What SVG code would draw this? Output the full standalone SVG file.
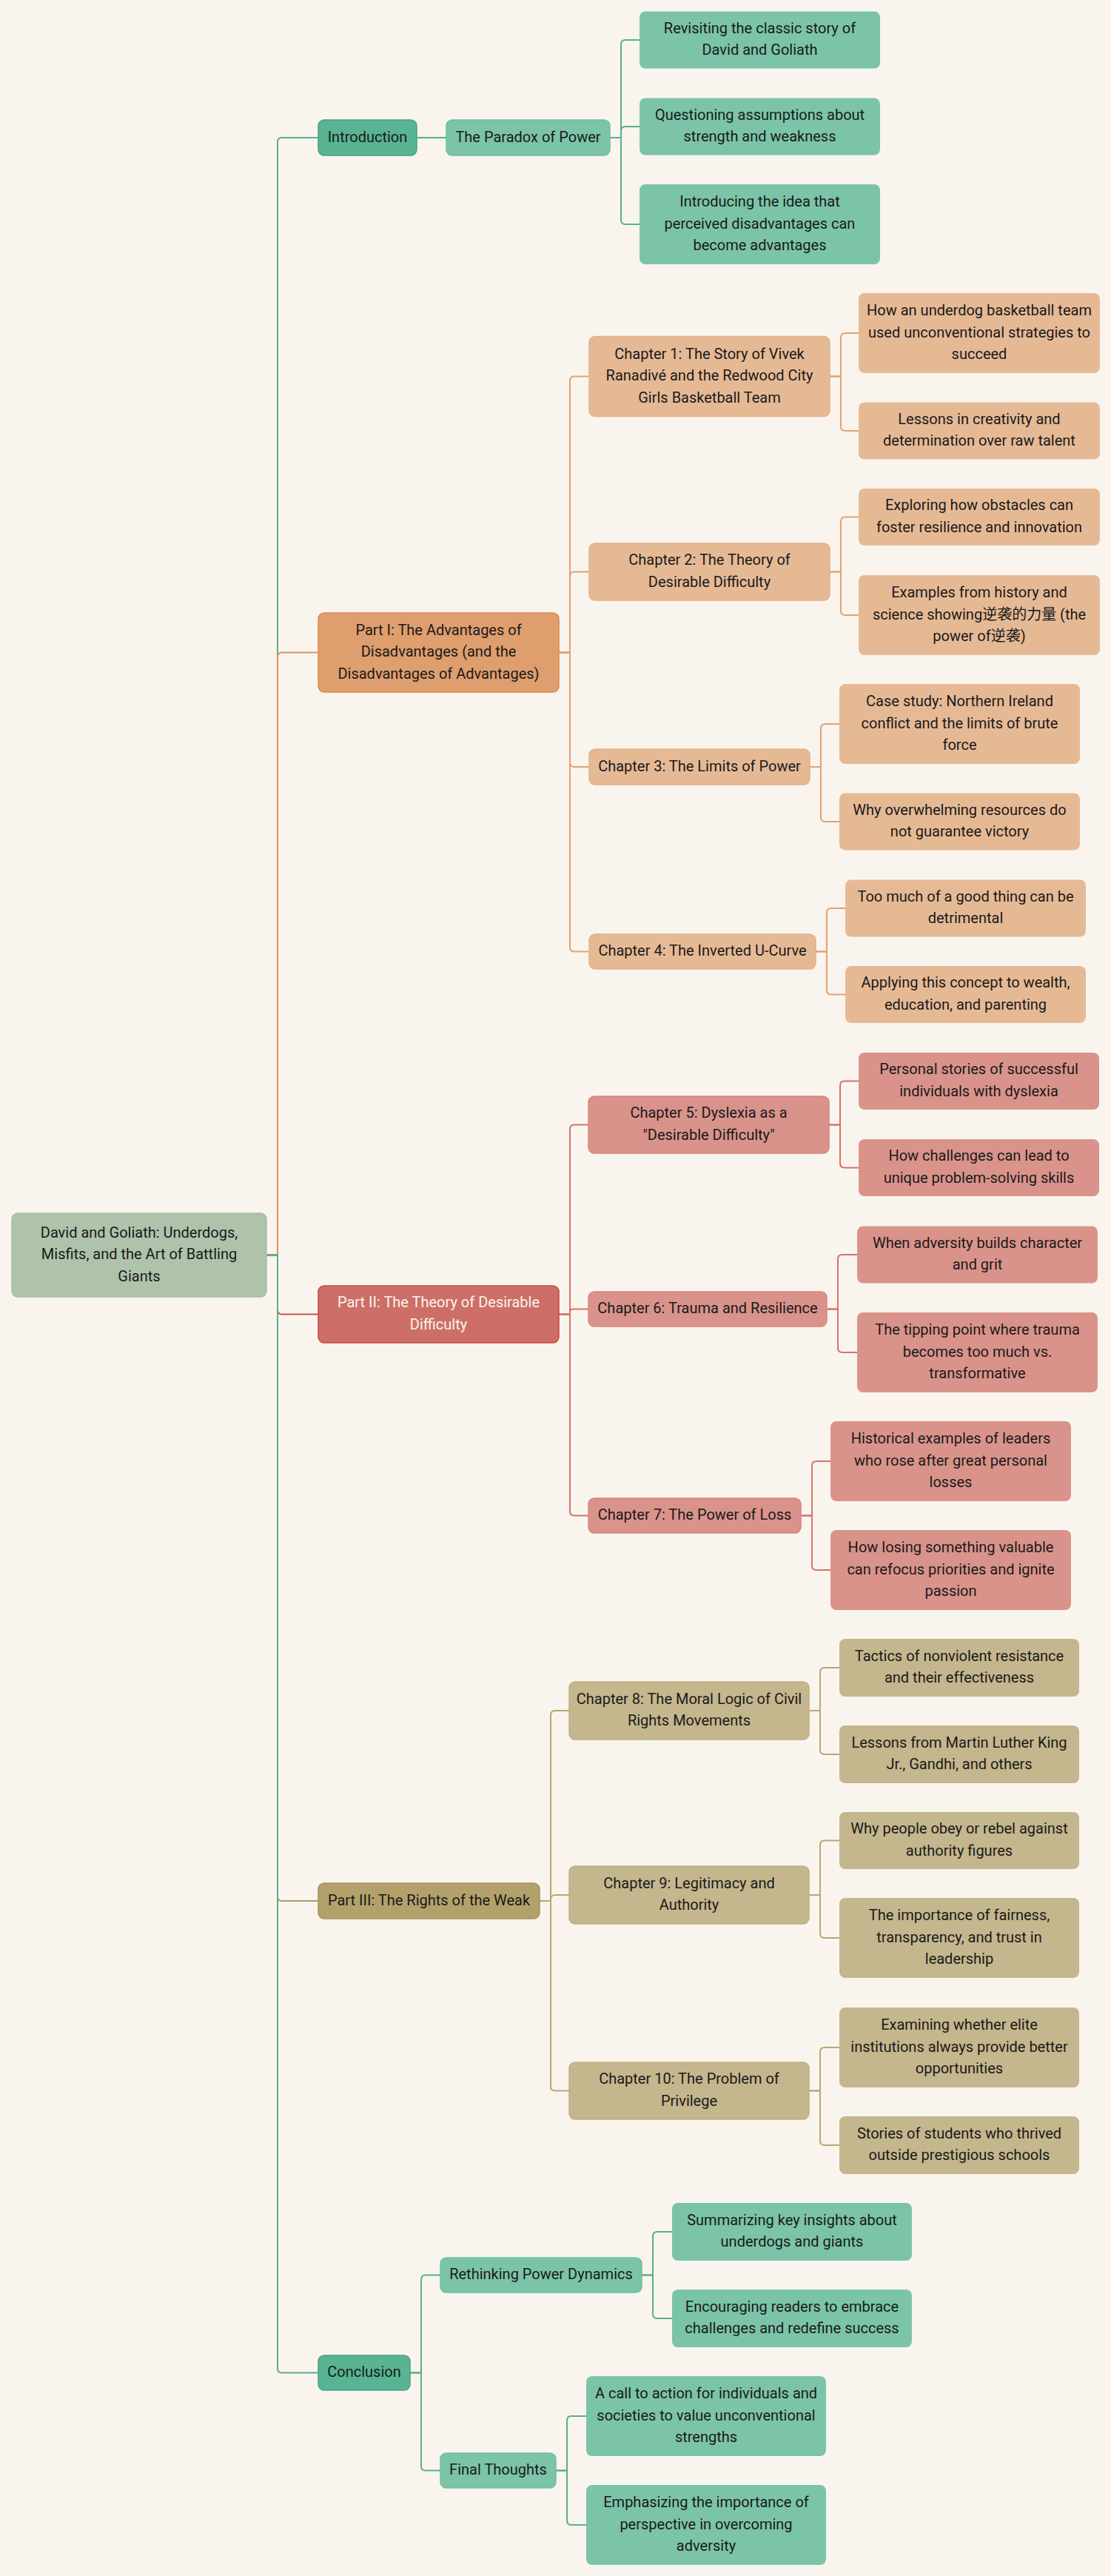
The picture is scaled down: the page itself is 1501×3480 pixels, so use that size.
<svg xmlns="http://www.w3.org/2000/svg" width="1501" height="3480" viewBox="0 0 1501 3480">
<style>
text{font-family:Roboto,"Noto Sans","Noto Sans CJK SC",sans-serif;font-size:20px;fill:#1a1a1a;text-anchor:middle}
.c{fill:none;stroke-width:2}
.cg{stroke:#5AAE8C}.co{stroke:#E2A272}.cor{stroke:#D9955C}.cr{stroke:#D5736A}.crr{stroke:#C9554B}.cy{stroke:#B8A771}.cyr{stroke:#AD9B62}
rect{stroke-width:1.5}
.root rect{fill:#AEC3AA;stroke:#A6BEA2}
.g1 rect{fill:#58B492;stroke:#4C9F80}
.g2 rect{fill:#7BC4A8;stroke:#70BE9F}
.o1 rect{fill:#DF9E6E;stroke:#D98A50}
.o2 rect{fill:#E6B995;stroke:#E4B089}
.r1 rect{fill:#CD6F66;stroke:#C24A40}
.r1 text{fill:#FBF3F0}
.r2 rect{fill:#D9938A;stroke:#D6857C}
.y1 rect{fill:#B3A16B;stroke:#A5935B}
.y2 rect{fill:#C4B68D;stroke:#BFB084}
.leaf rect{stroke:none}
</style>
<rect width="1501" height="3480" fill="#F9F5EE" stroke="none"/>
<g id="connectors">
<path class="c cg" d="M360 1695.5 H375 V192 Q375 186 381 186 H430"/>
<path class="c cor" d="M360 1695.5 H375 V887.5 Q375 881.5 381 881.5 H430"/>
<path class="c crr" d="M360 1695.5 H375 V1769.5 Q375 1775.5 381 1775.5 H430"/>
<path class="c cyr" d="M360 1695.5 H375 V2562 Q375 2568 381 2568 H430"/>
<path class="c cg" d="M360 1695.5 H375 V3199.5 Q375 3205.5 381 3205.5 H430"/>
<path class="c cg" d="M563 186 H603"/>
<path class="c cg" d="M824 186 H839 V60 Q839 54 845 54 H864"/>
<path class="c cg" d="M824 186 H839 V177 Q839 171 845 171 H864"/>
<path class="c cg" d="M824 186 H839 V297 Q839 303 845 303 H864"/>
<path class="c co" d="M755 881.5 H770 V514.5 Q770 508.5 776 508.5 H796"/>
<path class="c co" d="M755 881.5 H770 V778.5 Q770 772.5 776 772.5 H796"/>
<path class="c co" d="M755 881.5 H770 V1030 Q770 1036 776 1036 H796"/>
<path class="c co" d="M755 881.5 H770 V1279.5 Q770 1285.5 776 1285.5 H796"/>
<path class="c co" d="M1121 508.5 H1136 V456 Q1136 450 1142 450 H1160"/>
<path class="c co" d="M1121 508.5 H1136 V576 Q1136 582 1142 582 H1160"/>
<path class="c co" d="M1121 772.5 H1136 V704.5 Q1136 698.5 1142 698.5 H1160"/>
<path class="c co" d="M1121 772.5 H1136 V825 Q1136 831 1142 831 H1160"/>
<path class="c co" d="M1094 1036 H1109 V984 Q1109 978 1115 978 H1134"/>
<path class="c co" d="M1094 1036 H1109 V1104 Q1109 1110 1115 1110 H1134"/>
<path class="c co" d="M1102 1285.5 H1117 V1233 Q1117 1227 1123 1227 H1142"/>
<path class="c co" d="M1102 1285.5 H1117 V1337.5 Q1117 1343.5 1123 1343.5 H1142"/>
<path class="c cr" d="M755 1775.5 H770 V1525.5 Q770 1519.5 776 1519.5 H795"/>
<path class="c cr" d="M755 1775.5 H770 V1772.5 Q770 1768.5 774 1768.5 H795"/>
<path class="c cr" d="M755 1775.5 H770 V2041.5 Q770 2047.5 776 2047.5 H795"/>
<path class="c cr" d="M1120 1519.5 H1135 V1466.5 Q1135 1460.5 1141 1460.5 H1160"/>
<path class="c cr" d="M1120 1519.5 H1135 V1571.5 Q1135 1577.5 1141 1577.5 H1160"/>
<path class="c cr" d="M1117 1768.5 H1132 V1701 Q1132 1695 1138 1695 H1158"/>
<path class="c cr" d="M1117 1768.5 H1132 V1821 Q1132 1827 1138 1827 H1158"/>
<path class="c cr" d="M1082 2047.5 H1097 V1980 Q1097 1974 1103 1974 H1122"/>
<path class="c cr" d="M1082 2047.5 H1097 V2115 Q1097 2121 1103 2121 H1122"/>
<path class="c cy" d="M729 2568 H744 V2317 Q744 2311 750 2311 H769"/>
<path class="c cy" d="M729 2568 H744 V2566 Q744 2560 750 2560 H769"/>
<path class="c cy" d="M729 2568 H744 V2818.5 Q744 2824.5 750 2824.5 H769"/>
<path class="c cy" d="M1093 2311 H1108 V2259 Q1108 2253 1114 2253 H1134"/>
<path class="c cy" d="M1093 2311 H1108 V2364 Q1108 2370 1114 2370 H1134"/>
<path class="c cy" d="M1093 2560 H1108 V2492.5 Q1108 2486.5 1114 2486.5 H1134"/>
<path class="c cy" d="M1093 2560 H1108 V2612 Q1108 2618 1114 2618 H1134"/>
<path class="c cy" d="M1093 2824.5 H1108 V2772 Q1108 2766 1114 2766 H1134"/>
<path class="c cy" d="M1093 2824.5 H1108 V2892 Q1108 2898 1114 2898 H1134"/>
<path class="c cg" d="M554 3205.5 H569 V3079.5 Q569 3073.5 575 3073.5 H595"/>
<path class="c cg" d="M554 3205.5 H569 V3331.5 Q569 3337.5 575 3337.5 H595"/>
<path class="c cg" d="M867 3073.5 H882 V3021 Q882 3015 888 3015 H908"/>
<path class="c cg" d="M867 3073.5 H882 V3126 Q882 3132 888 3132 H908"/>
<path class="c cg" d="M751 3337.5 H766 V3270 Q766 3264 772 3264 H792"/>
<path class="c cg" d="M751 3337.5 H766 V3405 Q766 3411 772 3411 H792"/>
</g>

<g id="root" class="root"><rect x="16" y="1639" width="344" height="113" rx="8"/><text x="188" y="1671.5">David and Goliath: Underdogs,</text><text x="188" y="1701">Misfits, and the Art of Battling</text><text x="188" y="1730.5">Giants</text></g>

<g id="introduction" class="g1"><rect x="430" y="162" width="133" height="48" rx="8"/><text x="496.5" y="191.5">Introduction</text></g>
<g id="paradox" class="g2"><rect x="603" y="162" width="221" height="48" rx="8"/><text x="713.5" y="191.5">The Paradox of Power</text></g>
<g id="intro-l1" class="g2 leaf"><rect x="864" y="15.5" width="325" height="77" rx="8"/><text x="1026.5" y="44.75">Revisiting the classic story of</text><text x="1026.5" y="74.25">David and Goliath</text></g>
<g id="intro-l2" class="g2 leaf"><rect x="864" y="132.5" width="325" height="77" rx="8"/><text x="1026.5" y="161.75">Questioning assumptions about</text><text x="1026.5" y="191.25">strength and weakness</text></g>
<g id="intro-l3" class="g2 leaf"><rect x="864" y="249" width="325" height="108" rx="8"/><text x="1026.5" y="279">Introducing the idea that</text><text x="1026.5" y="308.5">perceived disadvantages can</text><text x="1026.5" y="338">become advantages</text></g>

<g id="part1" class="o1"><rect x="430" y="828" width="325" height="107" rx="8"/><text x="592.5" y="857.5">Part I: The Advantages of</text><text x="592.5" y="887">Disadvantages (and the</text><text x="592.5" y="916.5">Disadvantages of Advantages)</text></g>
<g id="ch1" class="o2"><rect x="796" y="454.5" width="325" height="108" rx="8"/><text x="958.5" y="484.5">Chapter 1: The Story of Vivek</text><text x="958.5" y="514">Ranadivé and the Redwood City</text><text x="958.5" y="543.5">Girls Basketball Team</text></g>
<g id="ch1-l1" class="o2 leaf"><rect x="1160" y="396" width="326" height="108" rx="8"/><text x="1323" y="426">How an underdog basketball team</text><text x="1323" y="455.5">used unconventional strategies to</text><text x="1323" y="485">succeed</text></g>
<g id="ch1-l2" class="o2 leaf"><rect x="1160" y="543.5" width="326" height="77" rx="8"/><text x="1323" y="572.75">Lessons in creativity and</text><text x="1323" y="602.25">determination over raw talent</text></g>
<g id="ch2" class="o2"><rect x="796" y="734" width="325" height="77" rx="8"/><text x="958.5" y="763.25">Chapter 2: The Theory of</text><text x="958.5" y="792.75">Desirable Difficulty</text></g>
<g id="ch2-l1" class="o2 leaf"><rect x="1160" y="660" width="326" height="77" rx="8"/><text x="1323" y="689.25">Exploring how obstacles can</text><text x="1323" y="718.75">foster resilience and innovation</text></g>
<g id="ch2-l2" class="o2 leaf"><rect x="1160" y="777" width="326" height="108" rx="8"/><text x="1323" y="807">Examples from history and</text><text x="1323" y="836.5">science showing逆袭的力量 (the</text><text x="1323" y="866">power of逆袭)</text></g>
<g id="ch3" class="o2"><rect x="796" y="1012" width="298" height="48" rx="8"/><text x="945" y="1041.5">Chapter 3: The Limits of Power</text></g>
<g id="ch3-l1" class="o2 leaf"><rect x="1134" y="924" width="325" height="108" rx="8"/><text x="1296.5" y="954">Case study: Northern Ireland</text><text x="1296.5" y="983.5">conflict and the limits of brute</text><text x="1296.5" y="1013">force</text></g>
<g id="ch3-l2" class="o2 leaf"><rect x="1134" y="1071.5" width="325" height="77" rx="8"/><text x="1296.5" y="1100.75">Why overwhelming resources do</text><text x="1296.5" y="1130.25">not guarantee victory</text></g>
<g id="ch4" class="o2"><rect x="796" y="1262" width="306" height="47" rx="8"/><text x="949" y="1291">Chapter 4: The Inverted U-Curve</text></g>
<g id="ch4-l1" class="o2 leaf"><rect x="1142" y="1188.5" width="325" height="77" rx="8"/><text x="1304.5" y="1217.75">Too much of a good thing can be</text><text x="1304.5" y="1247.25">detrimental</text></g>
<g id="ch4-l2" class="o2 leaf"><rect x="1142" y="1305" width="325" height="77" rx="8"/><text x="1304.5" y="1334.25">Applying this concept to wealth,</text><text x="1304.5" y="1363.75">education, and parenting</text></g>

<g id="part2" class="r1"><rect x="430" y="1737" width="325" height="77" rx="8"/><text x="592.5" y="1766.25">Part II: The Theory of Desirable</text><text x="592.5" y="1795.75">Difficulty</text></g>
<g id="ch5" class="r2"><rect x="795" y="1481" width="325" height="77" rx="8"/><text x="957.5" y="1510.25">Chapter 5: Dyslexia as a</text><text x="957.5" y="1539.75">"Desirable Difficulty"</text></g>
<g id="ch5-l1" class="r2 leaf"><rect x="1160" y="1422" width="325" height="77" rx="8"/><text x="1322.5" y="1451.25">Personal stories of successful</text><text x="1322.5" y="1480.75">individuals with dyslexia</text></g>
<g id="ch5-l2" class="r2 leaf"><rect x="1160" y="1539" width="325" height="77" rx="8"/><text x="1322.5" y="1568.25">How challenges can lead to</text><text x="1322.5" y="1597.75">unique problem-solving skills</text></g>
<g id="ch6" class="r2"><rect x="795" y="1745" width="322" height="47" rx="8"/><text x="956" y="1774">Chapter 6: Trauma and Resilience</text></g>
<g id="ch6-l1" class="r2 leaf"><rect x="1158" y="1656.5" width="325" height="77" rx="8"/><text x="1320.5" y="1685.75">When adversity builds character</text><text x="1320.5" y="1715.25">and grit</text></g>
<g id="ch6-l2" class="r2 leaf"><rect x="1158" y="1773" width="325" height="108" rx="8"/><text x="1320.5" y="1803">The tipping point where trauma</text><text x="1320.5" y="1832.5">becomes too much vs.</text><text x="1320.5" y="1862">transformative</text></g>
<g id="ch7" class="r2"><rect x="795" y="2024" width="287" height="47" rx="8"/><text x="938.5" y="2053">Chapter 7: The Power of Loss</text></g>
<g id="ch7-l1" class="r2 leaf"><rect x="1122" y="1920" width="325" height="108" rx="8"/><text x="1284.5" y="1950">Historical examples of leaders</text><text x="1284.5" y="1979.5">who rose after great personal</text><text x="1284.5" y="2009">losses</text></g>
<g id="ch7-l2" class="r2 leaf"><rect x="1122" y="2067" width="325" height="108" rx="8"/><text x="1284.5" y="2097">How losing something valuable</text><text x="1284.5" y="2126.5">can refocus priorities and ignite</text><text x="1284.5" y="2156">passion</text></g>

<g id="part3" class="y1"><rect x="430" y="2544" width="299" height="48" rx="8"/><text x="579.5" y="2573.5">Part III: The Rights of the Weak</text></g>
<g id="ch8" class="y2"><rect x="769" y="2272" width="324" height="78" rx="8"/><text x="931" y="2301.75">Chapter 8: The Moral Logic of Civil</text><text x="931" y="2331.25">Rights Movements</text></g>
<g id="ch8-l1" class="y2 leaf"><rect x="1134" y="2214" width="324" height="78" rx="8"/><text x="1296" y="2243.75">Tactics of nonviolent resistance</text><text x="1296" y="2273.25">and their effectiveness</text></g>
<g id="ch8-l2" class="y2 leaf"><rect x="1134" y="2331" width="324" height="78" rx="8"/><text x="1296" y="2360.75">Lessons from Martin Luther King</text><text x="1296" y="2390.25">Jr., Gandhi, and others</text></g>
<g id="ch9" class="y2"><rect x="769" y="2521" width="324" height="78" rx="8"/><text x="931" y="2550.75">Chapter 9: Legitimacy and</text><text x="931" y="2580.25">Authority</text></g>
<g id="ch9-l1" class="y2 leaf"><rect x="1134" y="2448" width="324" height="77" rx="8"/><text x="1296" y="2477.25">Why people obey or rebel against</text><text x="1296" y="2506.75">authority figures</text></g>
<g id="ch9-l2" class="y2 leaf"><rect x="1134" y="2564" width="324" height="108" rx="8"/><text x="1296" y="2594">The importance of fairness,</text><text x="1296" y="2623.5">transparency, and trust in</text><text x="1296" y="2653">leadership</text></g>
<g id="ch10" class="y2"><rect x="769" y="2786" width="324" height="77" rx="8"/><text x="931" y="2815.25">Chapter 10: The Problem of</text><text x="931" y="2844.75">Privilege</text></g>
<g id="ch10-l1" class="y2 leaf"><rect x="1134" y="2712" width="324" height="108" rx="8"/><text x="1296" y="2742">Examining whether elite</text><text x="1296" y="2771.5">institutions always provide better</text><text x="1296" y="2801">opportunities</text></g>
<g id="ch10-l2" class="y2 leaf"><rect x="1134" y="2859" width="324" height="78" rx="8"/><text x="1296" y="2888.75">Stories of students who thrived</text><text x="1296" y="2918.25">outside prestigious schools</text></g>

<g id="conclusion" class="g1"><rect x="430" y="3182" width="124" height="47" rx="8"/><text x="492" y="3211">Conclusion</text></g>
<g id="rethinking" class="g2"><rect x="595" y="3050" width="272" height="47" rx="8"/><text x="731" y="3079">Rethinking Power Dynamics</text></g>
<g id="rethinking-l1" class="g2 leaf"><rect x="908" y="2976" width="324" height="78" rx="8"/><text x="1070" y="3005.75">Summarizing key insights about</text><text x="1070" y="3035.25">underdogs and giants</text></g>
<g id="rethinking-l2" class="g2 leaf"><rect x="908" y="3093" width="324" height="78" rx="8"/><text x="1070" y="3122.75">Encouraging readers to embrace</text><text x="1070" y="3152.25">challenges and redefine success</text></g>
<g id="final" class="g2"><rect x="595" y="3314" width="156" height="47" rx="8"/><text x="673" y="3343">Final Thoughts</text></g>
<g id="final-l1" class="g2 leaf"><rect x="792" y="3210" width="324" height="108" rx="8"/><text x="954" y="3240">A call to action for individuals and</text><text x="954" y="3269.5">societies to value unconventional</text><text x="954" y="3299">strengths</text></g>
<g id="final-l2" class="g2 leaf"><rect x="792" y="3357" width="324" height="108" rx="8"/><text x="954" y="3387">Emphasizing the importance of</text><text x="954" y="3416.5">perspective in overcoming</text><text x="954" y="3446">adversity</text></g>
</svg>
